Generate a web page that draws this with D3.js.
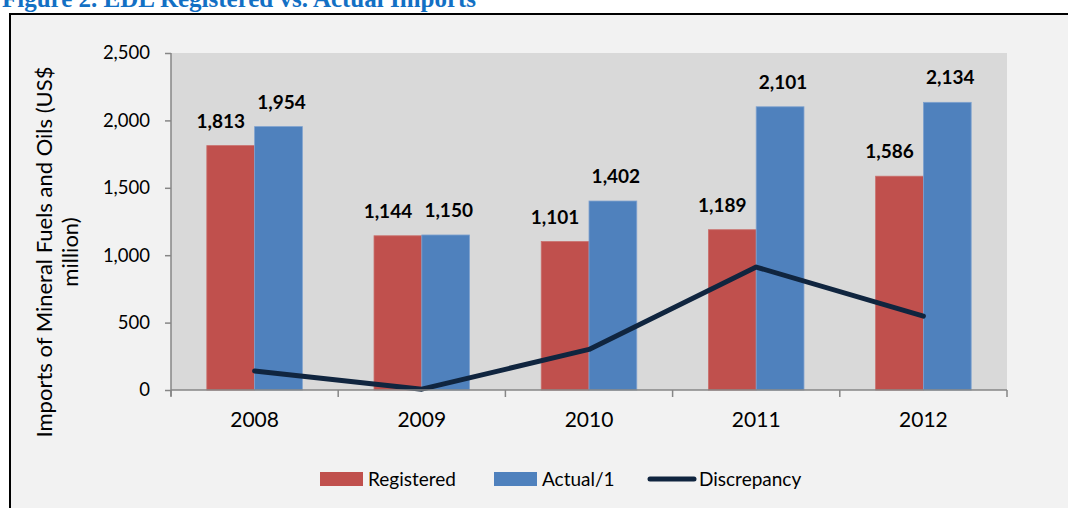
<!DOCTYPE html>
<html>
<head>
<meta charset="utf-8">
<script src="https://cdn.jsdelivr.net/npm/d3@7"></script>
<style>
  body { margin: 0; background: #fff; }
  text { font-family: Lato, "Noto Sans", sans-serif; }
</style>
</head>
<body>
<script>
// chart values
var years = ["2008", "2009", "2010", "2011", "2012"];
var registered = [1813, 1144, 1101, 1189, 1586];
var actual = [1954, 1150, 1402, 2101, 2134];
var discrepancy = [141, 6, 301, 912, 548];
var yTicks = [0, 500, 1000, 1500, 2000, 2500];
var seriesNames = ["Registered", "Actual/1", "Discrepancy"];

var width = 1068, height = 508;
var pLeft = 171, pRight = 1007, pTop = 53, pBottom = 390;

var svg = d3.select("body").append("svg")
  .attr("width", width)
  .attr("height", height);

// frame
svg.append("rect")
  .attr("x", 10).attr("y", 14)
  .attr("width", width + 20).attr("height", height + 20)
  .attr("fill", "#f2f2f2")
  .attr("stroke", "#000")
  .attr("stroke-width", 2);

svg.append("text")
  .attr("x", 2).attr("y", 7)
  .style("font-family", "'Liberation Serif', serif")
  .style("font-weight", "bold")
  .style("font-size", "25px")
  .attr("fill", "#1370c4")
  .text("Figure 2. EDL Registered vs. Actual Imports");

var x = d3.scaleBand().domain(years).range([pLeft, pRight]);
var inner = d3.scaleBand().domain([0, 1]).range([0, x.bandwidth()])
  .paddingOuter(0.75).paddingInner(0);
var y = d3.scaleLinear().domain([0, 2500]).range([pBottom, pTop]);

// plot area
svg.append("rect")
  .attr("x", pLeft).attr("y", pTop)
  .attr("width", pRight - pLeft).attr("height", pBottom - pTop)
  .attr("fill", "#d9d9d9");

var series = [
  { vals: registered, color: "#c0504d", stroke: "#c96f6c", dx: -10 },
  { vals: actual, color: "#4f81bd", stroke: "#7fa2cf", dx: 3 }
];

series.forEach(function(s, si) {
  svg.append("g").selectAll("rect")
    .data(s.vals)
    .join("rect")
    .attr("x", function(d, i) { return x(years[i]) + inner(si); })
    .attr("y", function(d) { return y(d); })
    .attr("width", inner.bandwidth())
    .attr("height", function(d) { return pBottom - y(d); })
    .attr("fill", s.color)
    .attr("stroke", s.stroke)
    .attr("stroke-width", 0.8);

  svg.append("g").selectAll("text")
    .data(s.vals)
    .join("text")
    .attr("x", function(d, i) { return x(years[i]) + inner(si) + inner.bandwidth() / 2 + s.dx; })
    .attr("y", function(d) { return y(d) - 18; })
    .attr("text-anchor", "middle")
    .style("font-weight", "bold")
    .style("font-size", "19px")
    .attr("fill", "#000")
    .text(d3.format(","));
});

// discrepancy line
var line = d3.line()
  .x(function(d, i) { return x(years[i]) + x.bandwidth() / 2; })
  .y(function(d) { return y(d); });

svg.append("path")
  .datum(discrepancy)
  .attr("d", line)
  .attr("fill", "none")
  .attr("stroke", "#10253f")
  .attr("stroke-width", 5)
  .attr("stroke-linecap", "round")
  .attr("stroke-linejoin", "round");

// axes
var yAxis = d3.axisLeft(y).tickValues(yTicks).tickSize(6).tickPadding(15)
  .tickFormat(d3.format(","));
var gy = svg.append("g").attr("transform", "translate(" + pLeft + ",0)").call(yAxis);
gy.select(".domain").attr("d", "M0," + pTop + "V" + (pBottom + 6));

var xAxis = d3.axisBottom(x).tickSize(0).tickPadding(22);
var gx = svg.append("g").attr("transform", "translate(0," + pBottom + ")").call(xAxis);
gx.select(".domain").attr("d", "M" + pLeft + ",0H" + pRight);
gx.selectAll(".bound").data(years.concat(["end"])).join("line")
  .attr("x1", function(d) { return d === "end" ? pRight : x(d); })
  .attr("x2", function(d) { return d === "end" ? pRight : x(d); })
  .attr("y1", 0).attr("y2", 7);

svg.selectAll(".domain, .tick line, g line").attr("stroke", "#868686").attr("stroke-width", 1.5);
svg.selectAll(".tick text").style("font-size", "18.5px").attr("fill", "#000")
  .style("font-family", "Lato, sans-serif");
gx.selectAll(".tick text").style("font-size", "21px");

// y title
var yt = svg.append("text")
  .attr("transform", "translate(52,252) rotate(-90)")
  .attr("text-anchor", "middle")
  .style("font-size", "22px")
  .attr("fill", "#000");
yt.append("tspan").attr("x", 0).attr("dy", 0).text("Imports of Mineral Fuels and Oils (US$");
yt.append("tspan").attr("x", 0).attr("dy", 26).text("million)");

// legend
var legend = svg.append("g");
var lx = [320, 494, 648];
seriesNames.forEach(function(name, i) {
  if (i < 2) {
    legend.append("rect")
      .attr("x", lx[i]).attr("y", 472)
      .attr("width", 43).attr("height", 14)
      .attr("fill", series[i].color);
  } else {
    legend.append("line")
      .attr("x1", lx[i] + 2).attr("x2", lx[i] + 46)
      .attr("y1", 479).attr("y2", 479)
      .attr("stroke", "#10253f").attr("stroke-width", 5)
      .attr("stroke-linecap", "round");
  }
  legend.append("text")
    .attr("x", lx[i] + (i < 2 ? 48 : 51)).attr("y", 479)
    .attr("dy", "0.35em")
    .style("font-size", "19px")
    .attr("fill", "#000")
    .text(name);
});
</script>
</body>
</html>
